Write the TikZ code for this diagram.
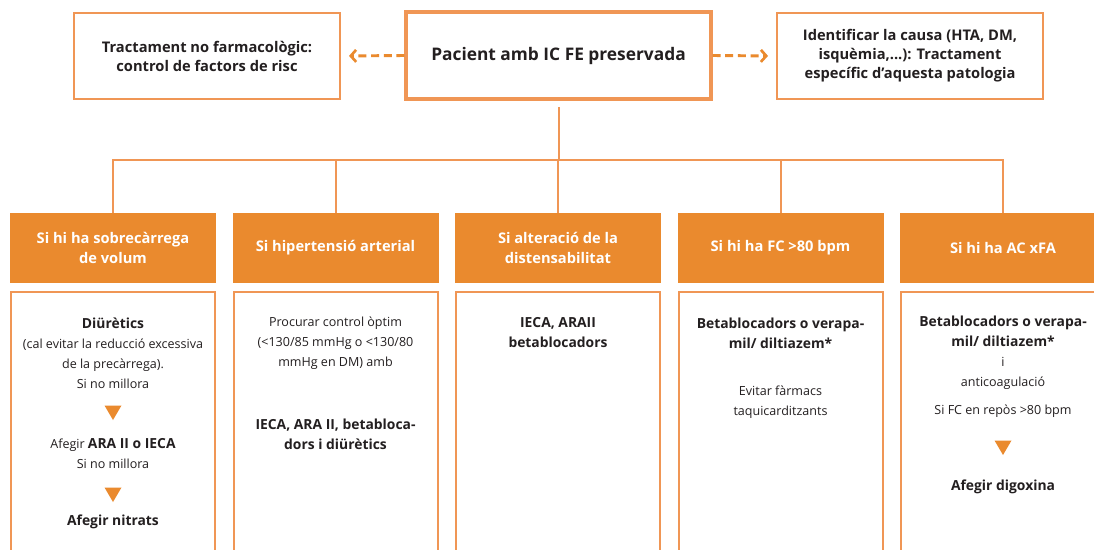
\documentclass[tikz,border=0pt]{standalone}
\usepackage{fontspec}
\setmainfont{Open Sans}
\usetikzlibrary{positioning,arrows.meta}
\definecolor{icorange}{RGB}{234,138,46}
\definecolor{icline}{RGB}{240,150,85}
\definecolor{ictext}{RGB}{35,31,32}

\tikzset{
  sidebox/.style={draw=icline, line width=1.5pt, minimum width=199.5pt, minimum height=64.5pt,
    align=center, text=ictext, font=\fontsize{11}{14.25}\selectfont\bfseries},
  mainbox/.style={draw=icline, line width=2.3pt, minimum width=228.75pt, minimum height=65.25pt,
    align=center, text=ictext, font=\fontsize{13}{15}\selectfont\bfseries},
  headbox/.style={fill=icorange, minimum width=154.5pt, minimum height=52.5pt,
    align=center, text=white, font=\fontsize{11}{15}\selectfont\bfseries},
  bodybox/.style={draw=icline, line width=1.5pt, minimum width=153pt, minimum height=201pt},
  bodytxt/.style={align=center, text=ictext, font=\fontsize{9.4}{15}\selectfont},
  boldtxt/.style={align=center, text=ictext, font=\fontsize{10.4}{15}\selectfont\bfseries},
  treeline/.style={draw=icline, line width=1.5pt},
  dasharrow/.style={draw=icorange, line width=2.2pt, dash pattern=on 6pt off 3.5pt,
    -{Straight Barb[length=4pt,width=9pt,line width=2pt]}, shorten >=6pt}
}

% small orange arrowhead between two steps
\newcommand{\icdown}[2]{\fill[icorange] (#1-8.5,#2-7.5) -- (#1+8.5,#2-7.5) -- (#1,#2+7) -- cycle;}

\begin{document}
\begin{tikzpicture}[x=0.75pt, y=-0.75pt]
\clip (0,0) rectangle (1094,549);
\fill[white] (0,0) rectangle (1094,549);

% top row
\node[mainbox] (pac) at (558.5,55.5) {Pacient amb IC FE preservada};
\node[sidebox] (nofarm) at (207,56) {Tractament no farmacològic:\\control de factors de risc};
\node[sidebox] (causa) at (910,56) {Identificar la causa (HTA, DM,\\isquèmia,...): Tractament\\específic d’aquesta patologia};

\draw[dasharrow] (pac.west) -- (nofarm.east);
\draw[dasharrow] (pac.east) -- (causa.west);

% headers
\node[headbox] (h1) at (113,248) {Si hi ha sobrecàrrega\\de volum};
\node[headbox] (h2) at (335.5,248) {Si hipertensió arterial};
\node[headbox] (h3) at (558,248) {Si alteració de la\\distensabilitat};
\node[headbox] (h4) at (780.5,248) {Si hi ha FC >80 bpm};
\node[headbox] (h5) at (1003,248) {Si hi ha AC xFA};

% tree
\coordinate (fork) at (558,160);
\draw[treeline] ([yshift=-5pt]pac.south) -- (pac.south |- fork);
\draw[treeline] (h1.north) |- (fork);
\draw[treeline] (h5.north) |- (fork);
\draw[treeline] (h2.north) -- (h2.north |- fork);
\draw[treeline] (h3.north) -- (h3.north |- fork);
\draw[treeline] (h4.north) -- (h4.north |- fork);

% bodies
\node[bodybox] (b1) at (113,426) {};
\node[bodybox] (b2) at (335.5,426) {};
\node[bodybox] (b3) at (558,426) {};
\node[bodybox] (b4) at (780.5,426) {};
\node[bodybox] (b5) at (1003,426) {};

% sobrecarrega
\node[bodytxt] (t1a) at (113,353) {{\fontsize{10.4}{15}\selectfont\bfseries Diürètics}\\(cal evitar la reducció excessiva\\de la precàrrega).\\Si no millora};
\icdown{113}{413}
\node[bodytxt] (t1b) at (113,454) {Afegir {\fontsize{10.4}{15}\selectfont\bfseries ARA II o IECA}\\Si no millora};
\icdown{113}{495}
\node[boldtxt] (t1c) at (113,522) {Afegir nitrats};

% hipertensio
\node[bodytxt] (t2a) at (335.5,343) {Procurar control òptim\\(<130/85 mmHg o <130/80\\mmHg en DM) amb};
\node[boldtxt] (t2b) at (335.5,434) {IECA, ARA II, betabloca-\\dors i diürètics};

% distensabilitat
\node[boldtxt] (t3a) at (558,333) {IECA, ARAII\\betablocadors};

% FC
\node[boldtxt] (t4a) at (780.5,333) {Betablocadors o verapa-\\mil/ diltiazem*};
\node[bodytxt] (t4b) at (780.5,402) {Evitar fàrmacs\\taquicarditzants};

% AC xFA
\node[bodytxt] (t5a) at (1003,353) {{\fontsize{10.4}{15}\selectfont\bfseries Betablocadors o verapa-}\\{\fontsize{10.4}{15}\selectfont\bfseries mil/ diltiazem*}\\i\\anticoagulació};
\node[bodytxt] (t5b) at (1003,411) {Si FC en repòs >80 bpm};
\icdown{1003}{448}
\node[boldtxt] (t5c) at (1003,487) {Afegir digoxina};
\end{tikzpicture}
\end{document}
